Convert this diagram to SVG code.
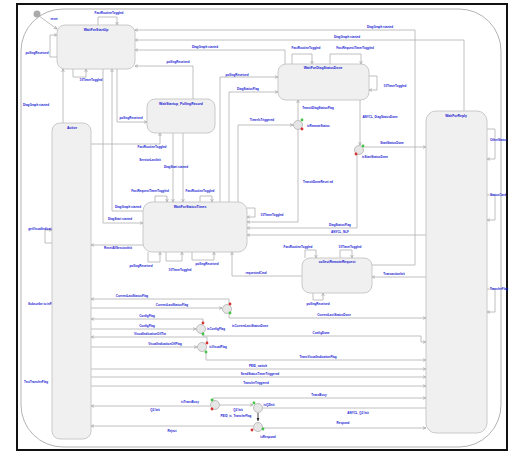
<svg xmlns="http://www.w3.org/2000/svg" width="509" height="455" viewBox="0 0 509 455">
<style>
.n{fill:#f0f0f0;stroke:#c4c4c4;stroke-width:0.9}
.c path{fill:none;stroke:#b0b0b0;stroke-width:0.8}
.a{marker-end:url(#ar)}
.t{font-family:"Liberation Sans",Arial,sans-serif;font-weight:bold;font-size:3px;fill:#1414d2;text-anchor:middle}
.nt{font-family:"Liberation Sans",Arial,sans-serif;font-weight:bold;font-size:3.4px;fill:#1414d2;text-anchor:middle}
.ch{fill:#e6e6e6;stroke:#a8a8a8;stroke-width:0.7}
.g{fill:#44c244}
.r{fill:#d83030}
</style>
<defs>
<marker id="ar" viewBox="0 0 6 6" refX="5.5" refY="3" markerWidth="3.5" markerHeight="3.5" markerUnits="userSpaceOnUse" orient="auto"><path d="M0,0.5 L5.5,3 L0,5.5" fill="none" stroke="#999" stroke-width="1"/></marker>
<marker id="af" viewBox="0 0 6 6" refX="5.5" refY="3" markerWidth="3.5" markerHeight="3.5" markerUnits="userSpaceOnUse" orient="auto"><path d="M0,0.5 L5.5,3 L0,5.5z" fill="#222"/></marker>
</defs>
<rect x="0" y="0" width="509" height="455" fill="#fff"/>
<rect x="17" y="4" width="490" height="446" fill="#fff" stroke="#111" stroke-width="2"/>
<rect x="21" y="9" width="480" height="438" rx="42" fill="#fff" stroke="#aaa" stroke-width="0.9"/>
<circle cx="37" cy="14" r="3.5" fill="#aaa"/>

<g id="connectors" class="c">
<path class="a" d="M39,16 L57,29"/>
<path class="a" d="M98,25 V17 H117 V25"/>
<path class="a" d="M57,57 H50 V35 H57"/>
<path class="a" d="M73,69 V77 H86 V69"/>
<path class="a" d="M63,123 V69"/>
<path class="a" d="M117,69 V122 H147"/>
<path class="a" d="M143,211 H112 V69"/>
<path class="a" d="M103,69 V223 H143"/>
<path class="a" d="M372,265 H415 V30 H135"/>
<path class="a" d="M464,111 V40 H135"/>
<path class="a" d="M285,64 V50 H135"/>
<path class="a" d="M193,99 V66 H135"/>
<path class="a" d="M292,64 V54 H312 V64"/>
<path class="a" d="M330,64 V54 H361 V64"/>
<path class="a" d="M369,76 H377 V90 H369"/>
<path class="a" d="M220,202 V77 H278"/>
<path class="a" d="M229,202 V92 H278"/>
<path class="a" d="M238,202 V125 H293"/>
<path class="a" d="M298,120 V100"/>
<path class="a" d="M298,130 V222 H247"/>
<path class="a" d="M360,100 V145"/>
<path class="a" d="M364,147 H426"/>
<path class="a" d="M357,154 V228 H247"/>
<path class="a" d="M426,235 H247"/>
<path class="a" d="M247,208 H255 V217 H247"/>
<path class="a" d="M155,202 V196 H167 V202"/>
<path class="a" d="M200,202 V196 H212 V202"/>
<path class="a" d="M183,133 V202"/>
<path class="a" d="M173,133 V202"/>
<path class="a" d="M91,144 H160 V133"/>
<path class="a" d="M143,245 H91"/>
<path class="a" d="M52,243 H45 V230 H52"/>
<path class="a" d="M148,252 V262 H160 V252"/>
<path class="a" d="M166,252 V261 H182 V252"/>
<path class="a" d="M192,252 V260 H214 V252"/>
<path class="a" d="M302,276 H232 V252"/>
<path class="a" d="M305,258 V250 H316 V258"/>
<path class="a" d="M340,258 V250 H352 V258"/>
<path class="a" d="M313,293 V300 H323 V293"/>
<path class="a" d="M426,277 H372"/>
<path class="a" d="M487,129 H495 V159 H487"/>
<path class="a" d="M487,195 H495 V220 H487"/>
<path class="a" d="M487,289 H495 V312 H487"/>
<path class="a" d="M229,304 V299 H91"/>
<path class="a" d="M91,308 H222"/>
<path class="a" d="M229,314 V318 H426"/>
<path class="a" d="M203,323 V319 H91"/>
<path class="a" d="M91,329 H196"/>
<path class="a" d="M203,334 V336 H421 V342 H426"/>
<path class="a" d="M207,343 V337 H91"/>
<path class="a" d="M91,347 H197"/>
<path class="a" d="M206,352 V360 H426"/>
<path class="a" d="M91,369 H426"/>
<path class="a" d="M91,377 H426"/>
<path class="a" d="M91,386 H426"/>
<path class="a" d="M213,401 V398 H426"/>
<path class="a" d="M210,406 H91"/>
<path class="a" d="M220,405 H253"/>
<path d="M263,408 H426"/>
<path d="M258,413 V421" style="stroke:#222;marker-end:url(#af)"/>
<path class="a" d="M253,426 H91"/>
<path class="a" d="M263,428 H426"/>
</g>

<g id="connector-labels">
<text class="t" x="54" y="20">reset</text>
<text class="t" x="109" y="14">FastRoutineToggled</text>
<text class="t" x="37" y="54">pollingReceived</text>
<text class="t" x="91" y="81">10TimerToggled</text>
<text class="t" x="36" y="106">DiagGraph started</text>
<text class="t" x="131" y="119">pollingReceived</text>
<text class="t" x="128" y="208">DiagGraph started</text>
<text class="t" x="120" y="220">DiagStart started</text>
<text class="t" x="380" y="28">DiagGraph started</text>
<text class="t" x="347" y="38">DiagGraph started</text>
<text class="t" x="205" y="48">DiagGraph started</text>
<text class="t" x="178" y="63">pollingReceived</text>
<text class="t" x="306" y="49">FastRoutineToggled</text>
<text class="t" x="355" y="49">FastRequestTimerToggled</text>
<text class="t" x="395" y="87">10TimerToggled</text>
<text class="t" x="237" y="76">pollingReceived</text>
<text class="t" x="248" y="90">DiagStatusFlag</text>
<text class="t" x="262" y="121">TimerIsTriggered</text>
<text class="t" x="318" y="109">TransitDiagStatusFlag</text>
<text class="t" x="318" y="183">TransitDoneReset ed</text>
<text class="t" x="380" y="118">ANYCL_DiagStatusDone</text>
<text class="t" x="392" y="144">StartStatusDone</text>
<text class="t" x="340" y="226">DiagStatusFlag</text>
<text class="t" x="340" y="233">ANYCL_NLF</text>
<text class="t" x="272" y="216">10TimerToggled</text>
<text class="t" x="150" y="192">FastRequestTimerToggled</text>
<text class="t" x="200" y="192">FastRoutineToggled</text>
<text class="t" x="176" y="168">DiagStart started</text>
<text class="t" x="150" y="161">ServiceLastInit</text>
<text class="t" x="152" y="148">FastRoutineToggled</text>
<text class="t" x="118" y="249">ResetAllSessionInit</text>
<text class="t" x="45" y="230">getVisualIndicationFlag</text>
<text class="t" x="141" y="267">pollingReceived</text>
<text class="t" x="180" y="271">10TimerToggled</text>
<text class="t" x="207" y="265">pollingReceived</text>
<text class="t" x="256" y="274">requestedCmd</text>
<text class="t" x="298" y="248">FastRoutineToggled</text>
<text class="t" x="350" y="248">10TimerToggled</text>
<text class="t" x="318" y="305">pollingReceived</text>
<text class="t" x="394" y="275">TransactionInit</text>
<text class="t" x="490" y="141" style="text-anchor:start">OtherStatus</text>
<text class="t" x="490" y="196" style="text-anchor:start">StatusCard</text>
<text class="t" x="490" y="290" style="text-anchor:start">TransferFlag</text>
<text class="t" x="42" y="305">Subscribe to inFlag</text>
<text class="t" x="36" y="383">TestTransferFlag</text>
<text class="t" x="132" y="297">CurrentLastStatusFlag</text>
<text class="t" x="172" y="306">CurrentLastStatusFlag</text>
<text class="t" x="334" y="316">CurrentLastStatusDone</text>
<text class="t" x="250" y="327">isCurrentLastStatusDone</text>
<text class="t" x="147" y="317">ConfigFlag</text>
<text class="t" x="147" y="327">ConfigFlag</text>
<text class="t" x="321" y="334">ConfigDone</text>
<text class="t" x="216" y="330">isConfigFlag</text>
<text class="t" x="150" y="335">VisualIndicationOffTm</text>
<text class="t" x="165" y="345">VisualIndicationOffFlag</text>
<text class="t" x="318" y="358">TransVisualIndicationFlag</text>
<text class="t" x="218" y="348">isVisualFlag</text>
<text class="t" x="258" y="367">PEID_switch</text>
<text class="t" x="260" y="375">SendStatusTimerTriggered</text>
<text class="t" x="256" y="384">TransferTriggered</text>
<text class="t" x="319" y="396">TransBusy</text>
<text class="t" x="190" y="403">isTransBusy</text>
<text class="t" x="155" y="411">Q2 Init</text>
<text class="t" x="238" y="411">Q2 Init</text>
<text class="t" x="269" y="406">isQ2Init</text>
<text class="t" x="358" y="414">ANYCL_Q2 Init</text>
<text class="t" x="236" y="417">PEID_is_TransferFlag</text>
<text class="t" x="172" y="432">Reject</text>
<text class="t" x="343" y="424">Respond</text>
<text class="t" x="268" y="438">isRespond</text>
<text class="t" x="307" y="127" style="text-anchor:start">isRemoteStatus</text>
<text class="t" x="362" y="158" style="text-anchor:start">isStartStatusDone</text>
</g>

<g id="WaitForStartUp"><rect class="n" x="57" y="25" width="78" height="44" rx="8"/><text class="nt" x="96" y="31">WaitForStartUp</text></g>
<g id="WaitStartup_PollingRecord"><rect class="n" x="147" y="99" width="68" height="34" rx="8"/><text class="nt" x="181" y="105">WaitStartup_PollingRecord</text></g>
<g id="WaitForDiagStatusDone"><rect class="n" x="278" y="64" width="91" height="36" rx="8"/><text class="nt" x="323" y="69">WaitForDiagStatusDone</text></g>
<g id="WaitForReply"><rect class="n" x="426" y="111" width="61" height="322" rx="10"/><text class="nt" x="456" y="117">WaitForReply</text></g>
<g id="Active"><rect class="n" x="52" y="123" width="39" height="316" rx="8"/><text class="nt" x="72" y="129">Active</text></g>
<g id="WaitForStatusTimes"><rect class="n" x="143" y="202" width="104" height="50" rx="9"/><text class="nt" x="190" y="208">WaitForStatusTimes</text></g>
<g id="collectRemoteRequest"><rect class="n" x="302" y="258" width="70" height="35" rx="8"/><text class="nt" x="337" y="263">collectRemoteRequest</text></g>

<g id="isRemoteStatus"><circle class="ch" cx="298" cy="125" r="4.5"/><circle class="g" cx="302" cy="120" r="1.4"/><circle class="r" cx="302" cy="129" r="1.4"/></g>
<g id="isStartStatusDone"><circle class="ch" cx="359" cy="150" r="4.5"/><circle class="g" cx="363" cy="146" r="1.4"/><circle class="r" cx="356" cy="154" r="1.4"/></g>
<g id="isCurrentLastStatusDone"><circle class="ch" cx="227" cy="309" r="4.5"/><circle class="r" cx="230" cy="304" r="1.4"/><circle class="g" cx="230" cy="313" r="1.4"/></g>
<g id="isConfigFlag"><circle class="ch" cx="201" cy="329" r="4.5"/><circle class="r" cx="203" cy="323" r="1.4"/><circle class="g" cx="203" cy="334" r="1.4"/></g>
<g id="isVisualFlag"><circle class="ch" cx="202" cy="347" r="4.5"/><circle class="r" cx="207" cy="343" r="1.4"/><circle class="g" cx="206" cy="352" r="1.4"/></g>
<g id="isTransBusy"><circle class="ch" cx="215" cy="405" r="4.5"/><circle class="g" cx="212" cy="400" r="1.4"/><circle class="r" cx="212" cy="409" r="1.4"/></g>
<g id="isQ2Init"><circle class="ch" cx="258" cy="408" r="4.5"/><circle class="g" cx="254" cy="403" r="1.4"/></g>
<g id="isRespond"><circle class="ch" cx="258" cy="427" r="4.5"/><circle class="r" cx="252" cy="430" r="1.4"/><circle class="g" cx="263" cy="429" r="1.4"/></g>
</svg>
